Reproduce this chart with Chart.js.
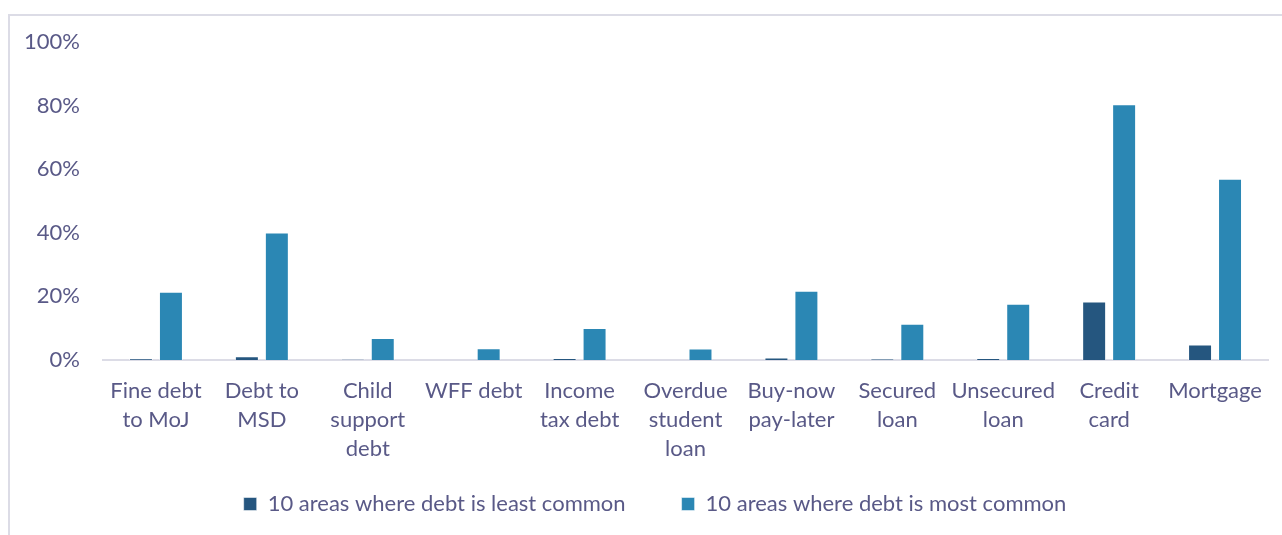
<!DOCTYPE html>
<html>
<head>
<meta charset="utf-8">
<script src="https://cdn.jsdelivr.net/npm/chart.js@4"></script>
<style>
  html, body { margin: 0; padding: 0; background: #fff; }
  body { width: 1282px; height: 535px; position: relative; overflow: hidden; }
  #frame { position: absolute; left: 8px; top: 14px; width: 1300px; height: 560px;
           border-left: 2px solid #dcdce6; border-top: 2px solid #dcdce6; }
  #wrap { position: absolute; left: 0; top: 0; width: 1282px; height: 535px; }
</style>
</head>
<body>
<div id="frame"></div>
<div id="wrap"><canvas id="debtChart"></canvas></div>
<script>
// Data
const categories = [
  ['Fine debt', 'to MoJ'], ['Debt to', 'MSD'], ['Child', 'support', 'debt'], 'WFF debt',
  ['Income', 'tax debt'], ['Overdue', 'student', 'loan'], ['Buy-now', 'pay-later'],
  ['Secured', 'loan'], ['Unsecured', 'loan'], ['Credit', 'card'], 'Mortgage'
];
const leastCommon = [0.5, 1.2, 0.2, 0, 0.6, 0, 0.8, 0.3, 0.6, 18.4, 4.9];
const mostCommon = [21.5, 40.1, 6.9, 3.7, 10.1, 3.6, 21.8, 11.4, 17.7, 80.4, 57.0];
const seriesNames = ['10 areas where debt is least common', '10 areas where debt is most common'];
const yTicks = [0, 20, 40, 60, 80, 100];

const textColor = '#595987';
const font = { family: 'Lato', size: 22 };

// nudge the legend so it sits centred under the frame like the original
const legendNudge = {
  id: 'legendNudge',
  afterLayout(chart) {
    const lg = chart.legend;
    if (!lg) return;
    lg.left += 21;
    lg.right += 21;
    lg.top = 437;
    lg.bottom = lg.top + lg.height;
  }
};

const ctx = document.getElementById('debtChart').getContext('2d');
const debtChart = new Chart(ctx, {
  type: 'bar',
  data: {
    labels: categories,
    datasets: [{
      label: seriesNames[0],
      data: leastCommon,
      backgroundColor: '#25567f',
      borderColor: 'rgba(255,255,255,0.5)',
      borderWidth: 1
    }, {
      label: seriesNames[1],
      data: mostCommon,
      backgroundColor: '#2b87b4',
      borderColor: 'rgba(255,255,255,0.5)',
      borderWidth: 1
    }]
  },
  options: {
    responsive: true,
    maintainAspectRatio: false,
    animation: false,
    layout: { padding: { top: 42, right: 14, bottom: -18, left: 0 } },
    datasets: { bar: { categoryPercentage: 0.566, barPercentage: 0.8 } },
    scales: {
      y: {
        min: 0,
        max: 100,
        afterFit: (scale) => { scale.width = 103; },
        afterBuildTicks: (scale) => { scale.ticks = yTicks.map(v => ({ value: v })); },
        grid: { display: false, drawTicks: false },
        border: { display: false },
        ticks: { color: textColor, font: font, padding: 23, callback: v => v + '%' }
      },
      x: {
        afterFit: (scale) => { scale.height = 105; },
        grid: { display: false, drawTicks: false },
        border: { display: true, color: '#dcdce6', width: 2 },
        ticks: { color: textColor, font: { family: 'Lato', size: 22, lineHeight: 1.32 },
                 padding: 16, maxRotation: 0, autoSkip: false }
      }
    },
    plugins: {
      legend: {
        position: 'bottom',
        labels: {
          color: textColor,
          font: font,
          boxWidth: 13,
          boxHeight: 13,
          padding: 56
        }
      },
      tooltip: { enabled: false }
    }
  },
  plugins: [legendNudge]
});
</script>
</body>
</html>
